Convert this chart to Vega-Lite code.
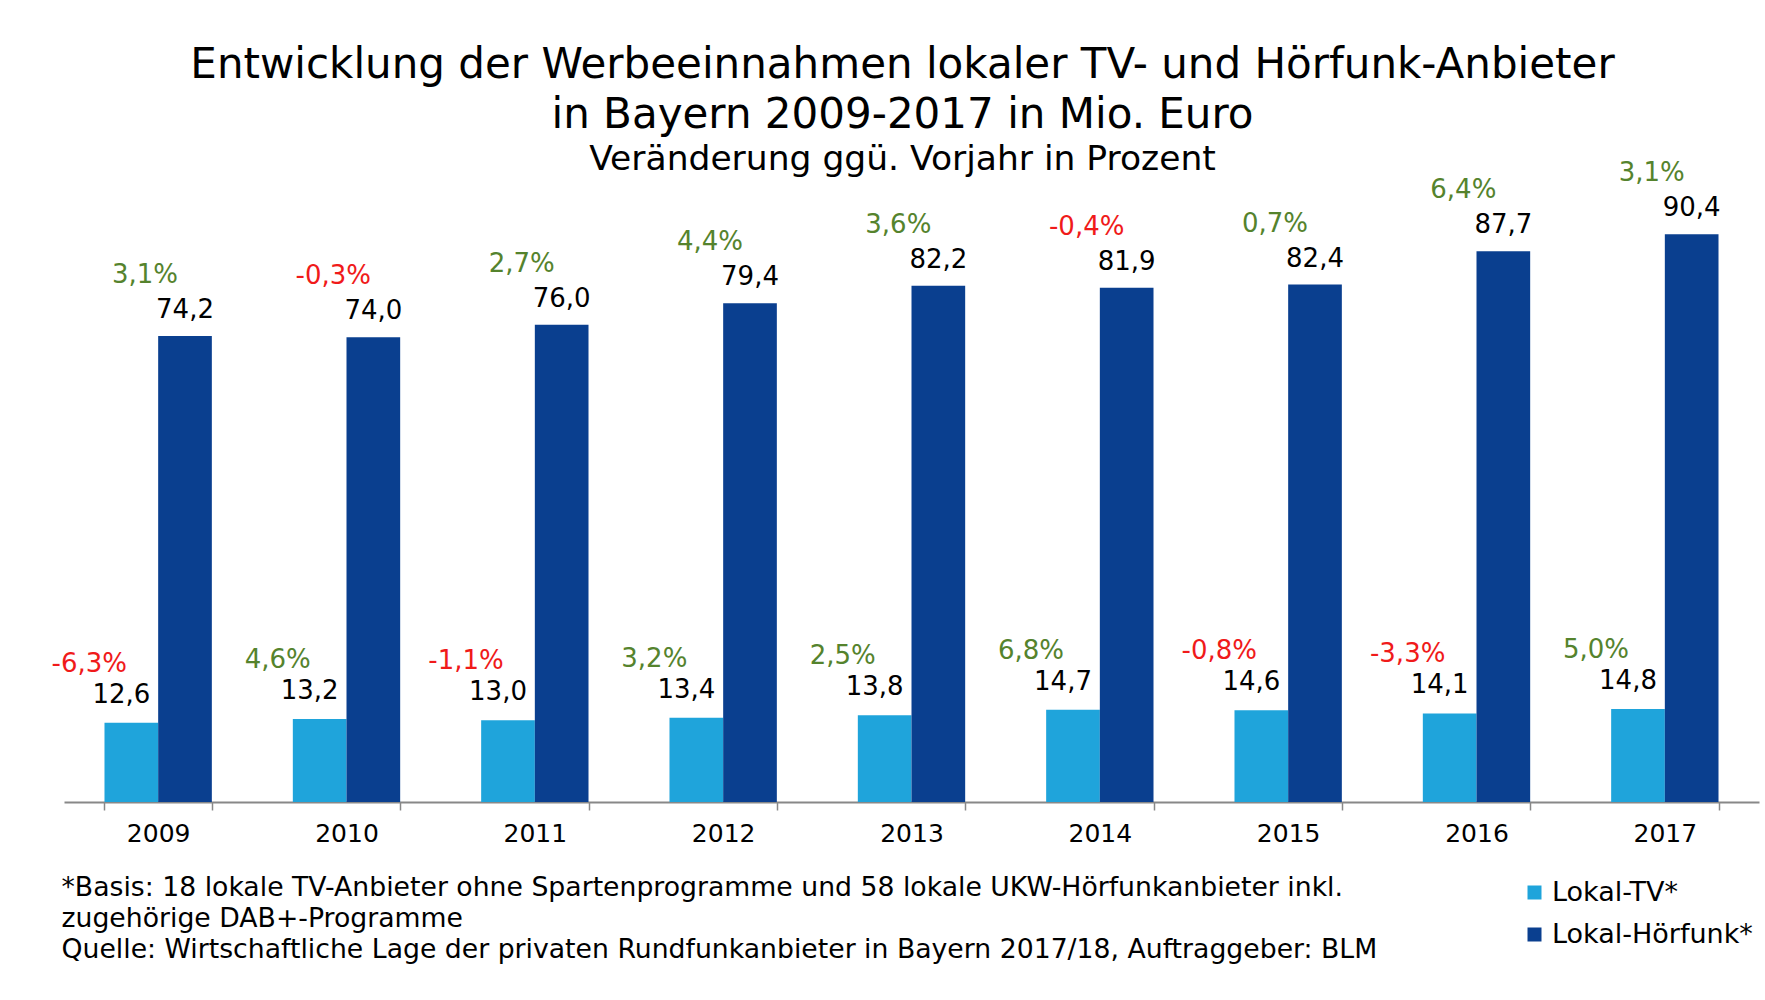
{
  "$schema": "https://vega.github.io/schema/vega-lite/v6.json",
  "width": 1695,
  "height": 628,
  "autosize": "none",
  "padding": {"left": 64, "top": 174, "right": 6, "bottom": 198},
  "background": "white",
  "title": {
    "text": ["Entwicklung der Werbeeinnahmen lokaler TV- und Hörfunk-Anbieter", "in Bayern 2009-2017 in Mio. Euro"],
    "subtitle": "Veränderung ggü. Vorjahr in Prozent",
    "anchor": "middle",
    "frame": "group",
    "dx": -9,
    "offset": -17,
    "font": "DejaVu Sans",
    "fontSize": 42,
    "fontWeight": "normal",
    "lineHeight": 50,
    "color": "black",
    "subtitleFont": "DejaVu Sans",
    "subtitleFontSize": 34.5,
    "subtitleColor": "black",
    "subtitlePadding": 6
  },
  "config": {
    "view": {"stroke": null},
    "locale": {
      "number": {"decimal": ",", "thousands": ".", "grouping": [3], "currency": ["", " €"], "minus": "-"}
    },
    "text": {"font": "DejaVu Sans", "fontSize": 26}
  },
  "data": {
    "values": [
      {"year": "2009", "series": "Lokal-TV*", "value": 12.6, "pct": -0.063},
      {"year": "2010", "series": "Lokal-TV*", "value": 13.2, "pct": 0.046},
      {"year": "2011", "series": "Lokal-TV*", "value": 13.0, "pct": -0.011},
      {"year": "2012", "series": "Lokal-TV*", "value": 13.4, "pct": 0.032},
      {"year": "2013", "series": "Lokal-TV*", "value": 13.8, "pct": 0.025},
      {"year": "2014", "series": "Lokal-TV*", "value": 14.7, "pct": 0.068},
      {"year": "2015", "series": "Lokal-TV*", "value": 14.6, "pct": -0.008},
      {"year": "2016", "series": "Lokal-TV*", "value": 14.1, "pct": -0.033},
      {"year": "2017", "series": "Lokal-TV*", "value": 14.8, "pct": 0.050},
      {"year": "2009", "series": "Lokal-Hörfunk*", "value": 74.2, "pct": 0.031},
      {"year": "2010", "series": "Lokal-Hörfunk*", "value": 74.0, "pct": -0.003},
      {"year": "2011", "series": "Lokal-Hörfunk*", "value": 76.0, "pct": 0.027},
      {"year": "2012", "series": "Lokal-Hörfunk*", "value": 79.4, "pct": 0.044},
      {"year": "2013", "series": "Lokal-Hörfunk*", "value": 82.2, "pct": 0.036},
      {"year": "2014", "series": "Lokal-Hörfunk*", "value": 81.9, "pct": -0.004},
      {"year": "2015", "series": "Lokal-Hörfunk*", "value": 82.4, "pct": 0.007},
      {"year": "2016", "series": "Lokal-Hörfunk*", "value": 87.7, "pct": 0.064},
      {"year": "2017", "series": "Lokal-Hörfunk*", "value": 90.4, "pct": 0.031}
    ]
  },
  "encoding": {
    "x": {
      "field": "year",
      "type": "nominal",
      "scale": {"paddingInner": 0.43, "paddingOuter": 0.215},
      "axis": {
        "title": [
          "*Basis: 18 lokale TV-Anbieter ohne Spartenprogramme und 58 lokale UKW-Hörfunkanbieter inkl.",
          "zugehörige DAB+-Programme",
          "Quelle: Wirtschaftliche Lage der privaten Rundfunkanbieter in Bayern 2017/18, Auftraggeber: BLM"
        ],
        "titleFont": "DejaVu Sans",
        "titleFontSize": 26.7,
        "titleFontWeight": "normal",
        "titleColor": "black",
        "titleAnchor": "start",
        "titleAlign": "left",
        "titleBaseline": "alphabetic",
        "titleX": -3,
        "titleY": 93,
        "titleLineHeight": 31,
        "labelAngle": 0,
        "labelFont": "DejaVu Sans",
        "labelFontSize": 25,
        "labelColor": "black",
        "labelPadding": 11,
        "tickBand": "extent",
        "tickSize": 8,
        "tickColor": "#888888",
        "tickWidth": 1.5,
        "domainColor": "#888888",
        "domainWidth": 2
      }
    },
    "xOffset": {"field": "series", "type": "nominal", "sort": ["Lokal-TV*", "Lokal-Hörfunk*"], "scale": {"paddingInner": 0, "paddingOuter": 0}},
    "y": {"field": "value", "type": "quantitative", "scale": {"domain": [0, 100]}, "axis": null}
  },
  "layer": [
    {
      "mark": {"type": "bar"},
      "encoding": {
        "color": {
          "field": "series",
          "type": "nominal",
          "sort": ["Lokal-TV*", "Lokal-Hörfunk*"],
          "scale": {"domain": ["Lokal-TV*", "Lokal-Hörfunk*"], "range": ["#1fa4db", "#0a3f8f"]},
          "legend": {
            "title": null,
            "orient": "none",
            "legendX": 1457,
            "legendY": 705,
            "symbolType": "square",
            "symbolSize": 196,
            "symbolStrokeWidth": 0,
            "labelFont": "DejaVu Sans",
            "labelFontSize": 27,
            "labelColor": "black",
            "labelOffset": 4,
            "labelLimit": 0,
            "rowPadding": 14
          }
        }
      }
    },
    {
      "transform": [{"filter": "datum.series == 'Lokal-TV*'"}],
      "mark": {"type": "text", "baseline": "middle", "dy": -28, "dx": -10, "color": "black"},
      "encoding": {"text": {"field": "value", "type": "quantitative", "format": ".1f"}}
    },
    {
      "transform": [{"filter": "datum.series == 'Lokal-Hörfunk*'"}],
      "mark": {"type": "text", "baseline": "middle", "dy": -26, "color": "black"},
      "encoding": {"text": {"field": "value", "type": "quantitative", "format": ".1f"}}
    },
    {
      "transform": [{"filter": "datum.series == 'Lokal-TV*'"}],
      "mark": {"type": "text", "baseline": "middle", "dy": -59, "dx": -42},
      "encoding": {
        "text": {"field": "pct", "type": "quantitative", "format": ".1%"},
        "color": {"condition": {"test": "datum.pct < 0", "value": "#f01a1a"}, "value": "#55832d"}
      }
    },
    {
      "transform": [{"filter": "datum.series == 'Lokal-Hörfunk*'"}],
      "mark": {"type": "text", "baseline": "middle", "dy": -61, "dx": -40},
      "encoding": {
        "text": {"field": "pct", "type": "quantitative", "format": ".1%"},
        "color": {"condition": {"test": "datum.pct < 0", "value": "#f01a1a"}, "value": "#55832d"}
      }
    }
  ]
}
